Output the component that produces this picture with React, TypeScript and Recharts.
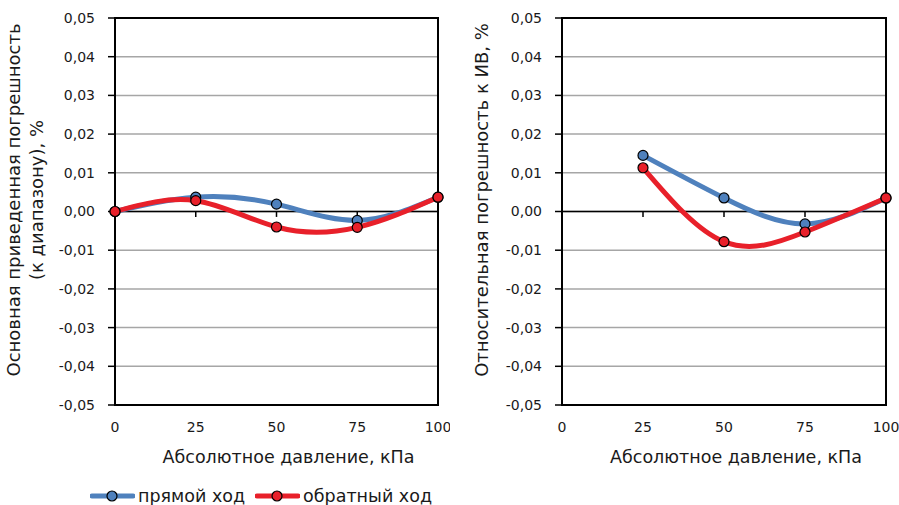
import React from "react";
import {
  LineChart,
  Line,
  XAxis,
  YAxis,
  CartesianGrid,
  ReferenceLine,
  ReferenceArea,
} from "recharts";

const pressureLeft = [0, 25, 50, 75, 100];
const directLeft = [0, 0.0037, 0.0019, -0.0023, 0.0037];
const reverseLeft = [0, 0.0028, -0.004, -0.0041, 0.0037];

const pressureRight = [25, 50, 75, 100];
const directRight = [0.0145, 0.0035, -0.0032, 0.0035];
const reverseRight = [0.0113, -0.0078, -0.0053, 0.0035];

const xTicks = [0, 25, 50, 75, 100];
const yTicks = [-0.05, -0.04, -0.03, -0.02, -0.01, 0, 0.01, 0.02, 0.03, 0.04, 0.05];
const zeroTicks = [25, 50, 75, 100];

const seriesNames = ["прямой ход", "обратный ход"];
const xTitle = "Абсолютное давление, кПа";
const leftTitle = ["Основная приведенная погрешность", "(к диапазону), %"];
const rightTitle = "Относительная погрешность к ИВ, %";

const BLUE = "#4F81BD";
const RED = "#E8202A";
const FONT = "'DejaVu Sans', sans-serif";

const leftData = pressureLeft.map((p, i) => ({ p, d: directLeft[i], r: reverseLeft[i] }));
const rightData = pressureRight.map((p, i) => ({ p, d: directRight[i], r: reverseRight[i] }));

const fmt = (v: number) => v.toFixed(2).replace(".", ",");

function Panel({
  data,
  yWidth,
  marginRight,
  titleLines,
  titleX,
}: {
  data: any[];
  yWidth: number;
  marginRight: number;
  titleLines: string[];
  titleX: number[];
}) {
  return (
    <LineChart
      width={450}
      height={470}
      data={data}
      margin={{ top: 18, right: marginRight, bottom: 0, left: 0 }}
      style={{ fontFamily: FONT }}
    >
      <CartesianGrid vertical={false} stroke="#a6a6a6" strokeWidth={1.5} horizontalValues={yTicks} />
      <XAxis
        dataKey="p"
        type="number"
        domain={[0, 100]}
        ticks={xTicks}
        height={65}
        tickLine={false}
        axisLine={false}
        tickSize={0}
        tickMargin={17}
        tick={{ fill: "#1a1a1a", fontSize: 14 }}
        label={(props: any) => {
          const vb = props.viewBox || {};
          return (
            <text
              x={vb.x + vb.width / 2 + 12}
              y={vb.y + 58}
              textAnchor="middle"
              style={{ fill: "#1a1a1a", fontSize: 17.5, fontFamily: FONT }}
            >
              {xTitle}
            </text>
          );
        }}
      />
      <YAxis
        type="number"
        domain={[-0.05, 0.05]}
        ticks={yTicks}
        width={yWidth}
        tickFormatter={fmt}
        tickSize={7}
        tickMargin={13}
        tickLine={{ stroke: "#000", strokeWidth: 1.5 }}
        axisLine={{ stroke: "#000", strokeWidth: 2 }}
        tick={{ fill: "#1a1a1a", fontSize: 14 }}
        label={() => (
          <text
            transform="rotate(-90)"
            textAnchor="middle"
            style={{ fill: "#1a1a1a", fontSize: 18, fontFamily: FONT }}
          >
            {titleLines.map((t, i) => (
              <tspan key={i} x={-200} y={titleX[i]}>
                {t}
              </tspan>
            ))}
          </text>
        )}
      />
      <ReferenceArea
        x1={0}
        x2={100}
        y1={-0.05}
        y2={0.05}
        fill="none"
        fillOpacity={0}
        stroke="#000"
        strokeWidth={2}
        ifOverflow="visible"
      />
      <ReferenceLine y={0} stroke="#000" strokeWidth={1.5} />
      {zeroTicks.map((t) => (
        <ReferenceLine
          key={t}
          segment={[
            { x: t, y: 0 },
            { x: t, y: -0.0014 },
          ]}
          stroke="#000"
          strokeWidth={1.5}
        />
      ))}
      <Line
        type="natural"
        dataKey="d"
        name={seriesNames[0]}
        stroke={BLUE}
        strokeWidth={5}
        dot={{ r: 5, fill: BLUE, stroke: "#000", strokeWidth: 1.2 }}
        isAnimationActive={false}
      />
      <Line
        type="natural"
        dataKey="r"
        name={seriesNames[1]}
        stroke={RED}
        strokeWidth={5}
        dot={{ r: 5, fill: RED, stroke: "#000", strokeWidth: 1.2 }}
        isAnimationActive={false}
      />
    </LineChart>
  );
}

function LegendIcon({ color }: { color: string }) {
  return (
    <svg width={45} height={14} style={{ verticalAlign: "middle" }}>
      <line x1={2} y1={7} x2={43} y2={7} stroke={color} strokeWidth={5} strokeLinecap="round" />
      <circle cx={22} cy={7} r={5} fill={color} stroke="#000" strokeWidth={1.2} />
    </svg>
  );
}

export default function App() {
  return (
    <div
      style={{
        position: "absolute",
        left: 0,
        top: 0,
        width: 899,
        height: 505,
        background: "#fff",
        fontFamily: FONT,
      }}
    >
      <div style={{ position: "absolute", left: 0, top: 0 }}>
        <Panel data={leftData} yWidth={115} marginRight={12} titleLines={leftTitle} titleX={[20, 43]} />
      </div>
      <div style={{ position: "absolute", left: 450, top: 0 }}>
        <Panel data={rightData} yWidth={112} marginRight={14} titleLines={[rightTitle]} titleX={[38]} />
      </div>
      <div
        style={{
          position: "absolute",
          left: 90,
          top: 484,
          height: 24,
          display: "flex",
          alignItems: "center",
          fontSize: 17.5,
          color: "#1a1a1a",
          whiteSpace: "nowrap",
        }}
      >
        <LegendIcon color={BLUE} />
        <span style={{ marginLeft: 3, marginRight: 10 }}>{seriesNames[0]}</span>
        <LegendIcon color={RED} />
        <span style={{ marginLeft: 3 }}>{seriesNames[1]}</span>
      </div>
    </div>
  );
}
